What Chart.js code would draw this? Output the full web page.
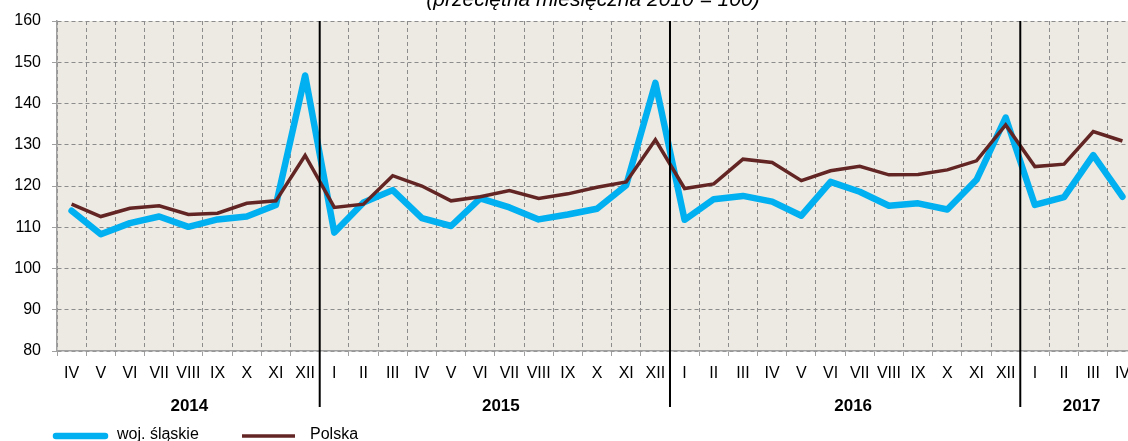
<!DOCTYPE html>
<html><head><meta charset="utf-8">
<script src="https://cdn.jsdelivr.net/npm/chart.js@4/dist/chart.umd.min.js"></script>
<style>html,body{margin:0;padding:0;overflow:hidden;background:#fff;width:1128px;height:441px}canvas{display:block}</style>
</head><body>
<canvas id="c" width="1138" height="441"></canvas>
<script>
const months = ['IV','V','VI','VII','VIII','IX','X','XI','XII',
  'I','II','III','IV','V','VI','VII','VIII','IX','X','XI','XII',
  'I','II','III','IV','V','VI','VII','VIII','IX','X','XI','XII',
  'I','II','III','IV'];
const years = ['2014','2015','2016','2017'];
const yearSpans = [9,12,12,4];
const slaskie = [114.0,108.3,111.0,112.6,110.1,111.9,112.6,115.4,146.8,
  108.7,116.0,119.0,112.2,110.3,117.0,114.8,111.9,113.1,114.5,120.2,145.0,
  111.8,116.8,117.6,116.2,112.8,121.0,118.6,115.2,115.8,114.3,121.5,136.6,
  115.4,117.3,127.5,117.4];
const polska = [115.6,112.6,114.6,115.2,113.1,113.4,115.8,116.4,127.4,
  114.8,115.6,122.5,120.0,116.4,117.4,118.9,117.0,118.1,119.7,121.0,131.2,
  119.4,120.5,126.5,125.7,121.3,123.7,124.8,122.7,122.8,123.9,126.1,134.8,
  124.7,125.3,133.2,130.9];
const seriesNames = ['woj. śląskie','Polska'];
const yMin = 80, yMax = 160, yStep = 10;
const titleText = '(przeciętna miesięczna 2010 = 100)';

const FONT = '"Liberation Sans", Arial, sans-serif';
const BLUE = '#00B0F0', BROWN = '#632523';

const plotBg = { id:'plotBg', beforeDraw(chart){
  const {ctx, chartArea:a} = chart;
  ctx.save(); ctx.fillStyle = '#ECEAE2';
  ctx.fillRect(a.left, a.top, a.right - a.left, a.bottom - a.top);
  ctx.restore();
}};

const extras = { id:'extras', afterDatasetsDraw(chart){
  const {ctx, chartArea:a, scales:{x}} = chart;
  ctx.save();
  const nudges = [1,6,8,3];
  let idx = 0;
  years.forEach((yr, k) => {
    const first = idx, last = idx + yearSpans[k] - 1;
    const cx = (x.getPixelForValue(first) + x.getPixelForValue(last)) / 2 + nudges[k];
    ctx.font = 'bold 17px ' + FONT; ctx.fillStyle = '#000';
    ctx.textAlign = 'center'; ctx.textBaseline = 'alphabetic';
    ctx.fillText(yr, cx, 411);
    idx += yearSpans[k];
    if (k < years.length - 1) {
      const bx = (x.getPixelForValue(last) + x.getPixelForValue(last + 1)) / 2;
      ctx.strokeStyle = '#000'; ctx.lineWidth = 2;
      ctx.beginPath(); ctx.moveTo(bx, a.top); ctx.lineTo(bx, 407); ctx.stroke();
    }
  });
  // title
  ctx.font = 'italic 21px ' + FONT; ctx.fillStyle = '#000';
  ctx.textAlign = 'center'; ctx.textBaseline = 'alphabetic';
  ctx.fillText(titleText, 593, 6);
  // legend
  const ds = chart.data.datasets;
  ctx.lineCap = 'round'; ctx.strokeStyle = ds[0].borderColor; ctx.lineWidth = 6.5;
  ctx.beginPath(); ctx.moveTo(56, 436); ctx.lineTo(105, 436); ctx.stroke();
  ctx.lineCap = 'butt'; ctx.strokeStyle = ds[1].borderColor; ctx.lineWidth = 3.5;
  ctx.beginPath(); ctx.moveTo(242, 436); ctx.lineTo(295, 436); ctx.stroke();
  ctx.font = '16px ' + FONT; ctx.fillStyle = '#000'; ctx.textAlign = 'left';
  ctx.fillText(ds[0].label, 117, 439);
  ctx.fillText(ds[1].label, 310, 439);
  ctx.restore();
}};

const gridCommon = { color:'#8C8C8C', lineWidth:1, tickLength:5, tickColor:'#A0A0A0', tickBorderDash:[] };
const borderCommon = { display:true, color:'#A0A0A0', width:1.5, dash:[4,3] };

new Chart(document.getElementById('c'), {
  type:'line',
  data:{
    labels: months,
    datasets:[
      { label: seriesNames[0], data: slaskie, borderColor: BLUE, backgroundColor: BLUE, borderWidth:6.5,
        pointRadius:0, tension:0, borderJoinStyle:'round', borderCapStyle:'round', fill:false, order:2 },
      { label: seriesNames[1], data: polska, borderColor: BROWN, backgroundColor: BROWN, borderWidth:3.5,
        pointRadius:0, tension:0, borderJoinStyle:'miter', fill:false, order:1 }
    ]
  },
  options:{
    responsive:false, animation:false, devicePixelRatio:1,
    layout:{ padding:{ left:0, right:0, top:21, bottom:0 } },
    plugins:{ legend:{display:false}, tooltip:{enabled:false}, title:{display:false} },
    scales:{
      x:{ type:'category', offset:true,
        grid: Object.assign({ offset:true }, gridCommon),
        border: borderCommon,
        ticks:{ font:{size:16, family:FONT}, color:'#000', padding:8, maxRotation:0, minRotation:0, autoSkip:false },
        afterFit(s){ s.height = 90; } },
      y:{ min:yMin, max:yMax,
        grid: gridCommon, border: borderCommon,
        ticks:{ stepSize:yStep, font:{size:16, family:FONT}, color:'#000', padding:11 },
        afterFit(s){ s.width = 57; } }
    }
  },
  plugins:[plotBg, extras]
});
</script>
</body></html>
